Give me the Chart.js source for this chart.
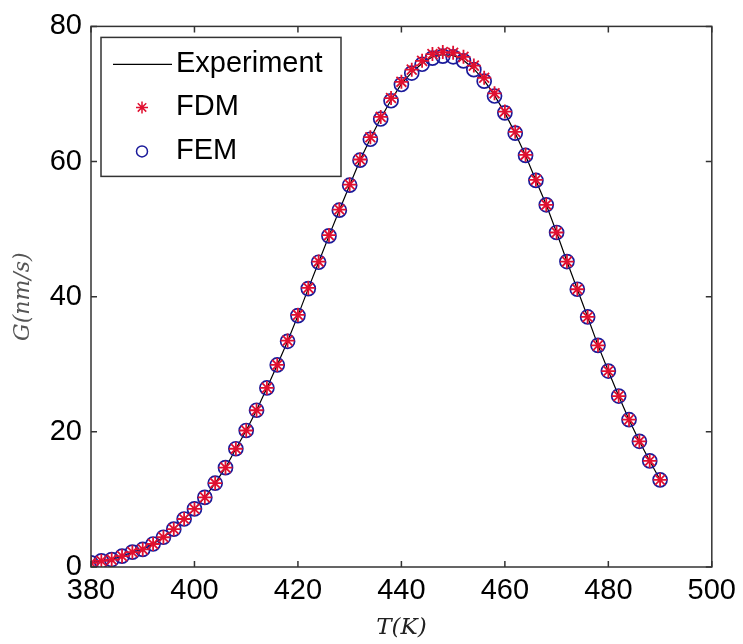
<!DOCTYPE html>
<html lang="en">
<head>
    <meta charset="UTF-8">
    <title>Growth rate vs temperature</title>
    <script src="https://cdn.jsdelivr.net/npm/chart.js"></script>
    <style>
        body {
            margin: 0;
            background: #ffffff;
        }
        .chart-container {
            position: relative;
            width: 743px;
            height: 644px;
        }
    </style>
</head>
<body>
    <div class="chart-container">
        <canvas id="growthChart"></canvas>
    </div>
    <script>
        // temperature samples (K)
        const temps = [380, 382, 384, 386, 388, 390, 392, 394, 396, 398,
                       400, 402, 404, 406, 408, 410, 412, 414, 416, 418,
                       420, 422, 424, 426, 428, 430, 432, 434, 436, 438,
                       440, 442, 444, 446, 448, 450, 452, 454, 456, 458,
                       460, 462, 464, 466, 468, 470, 472, 474, 476, 478,
                       480, 482, 484, 486, 488, 490];

        // growth rate G (nm/s)
        const experimentG = [0.6, 0.9, 1.1, 1.6, 2.2, 2.6, 3.4, 4.4, 5.6, 7.1,
                             8.6, 10.3, 12.4, 14.7, 17.5, 20.2, 23.2, 26.5, 29.9, 33.4,
                             37.2, 41.2, 45.1, 49.0, 52.8, 56.5, 60.2, 63.4, 66.4, 69.1,
                             71.5, 73.2, 74.5, 75.5, 75.8, 75.7, 75.0, 73.7, 72.0, 69.8,
                             67.2, 64.2, 60.9, 57.2, 53.6, 49.5, 45.2, 41.1, 37.0, 32.8,
                             29.0, 25.3, 21.8, 18.6, 15.7, 12.9];

        const fdmG = [0.6, 0.9, 1.1, 1.6, 2.2, 2.6, 3.4, 4.4, 5.6, 7.1,
                      8.6, 10.3, 12.4, 14.7, 17.5, 20.2, 23.2, 26.5, 29.9, 33.5,
                      37.3, 41.3, 45.2, 49.1, 52.9, 56.6, 60.3, 63.6, 66.6, 69.4,
                      71.8, 73.6, 74.9, 75.9, 76.2, 76.1, 75.5, 74.2, 72.4, 70.1,
                      67.4, 64.4, 61.0, 57.3, 53.6, 49.5, 45.2, 41.1, 37.0, 32.8,
                      29.0, 25.3, 21.8, 18.6, 15.7, 12.9];

        const femG = [0.6, 0.9, 1.1, 1.6, 2.2, 2.6, 3.4, 4.4, 5.6, 7.1,
                      8.6, 10.3, 12.4, 14.7, 17.5, 20.2, 23.2, 26.5, 29.9, 33.4,
                      37.2, 41.2, 45.1, 49.0, 52.8, 56.5, 60.2, 63.3, 66.3, 69.0,
                      71.4, 73.1, 74.4, 75.3, 75.6, 75.5, 74.9, 73.6, 71.9, 69.7,
                      67.2, 64.2, 60.9, 57.2, 53.6, 49.5, 45.2, 41.1, 37.0, 32.8,
                      29.0, 25.3, 21.8, 18.6, 15.7, 12.9];

        const xTicks = [380, 400, 420, 440, 460, 480, 500];
        const yTicks = [0, 20, 40, 60, 80];

        const RED = '#e01030';
        const BLUE = '#1a1a9a';
        const AXIS = '#333333';

        function pairs(ys) {
            return temps.map((t, i) => ({ x: t, y: ys[i] }));
        }

        // boxed frame with inward ticks on all four sides
        const framePlugin = {
            id: 'frame',
            afterDatasetsDraw(chart) {
                const { ctx, chartArea: a, scales } = chart;
                ctx.save();
                ctx.strokeStyle = AXIS;
                ctx.lineWidth = 1.5;
                ctx.strokeRect(a.left, a.top, a.right - a.left, a.bottom - a.top);
                const len = 6;
                ctx.beginPath();
                xTicks.forEach(v => {
                    const px = scales.x.getPixelForValue(v);
                    ctx.moveTo(px, a.bottom); ctx.lineTo(px, a.bottom - len);
                    ctx.moveTo(px, a.top); ctx.lineTo(px, a.top + len);
                });
                yTicks.forEach(v => {
                    const py = scales.y.getPixelForValue(v);
                    ctx.moveTo(a.left, py); ctx.lineTo(a.left + len, py);
                    ctx.moveTo(a.right, py); ctx.lineTo(a.right - len, py);
                });
                ctx.stroke();
                ctx.restore();
            }
        };

        // MATLAB-style legend box in the upper left corner
        const legendPlugin = {
            id: 'boxLegend',
            afterDraw(chart) {
                const { ctx, chartArea: a } = chart;
                const x0 = a.left + 10, y0 = a.top + 11;
                const w = 240, h = 139;
                ctx.save();
                ctx.fillStyle = '#ffffff';
                ctx.fillRect(x0, y0, w, h);
                ctx.strokeStyle = AXIS;
                ctx.lineWidth = 1.5;
                ctx.strokeRect(x0, y0, w, h);

                const rows = [y0 + 27, y0 + 70, y0 + 114];
                const mx = x0 + 41;
                const tx = x0 + 75;

                // Experiment line
                ctx.strokeStyle = '#000';
                ctx.lineWidth = 1.2;
                ctx.beginPath();
                ctx.moveTo(x0 + 12, rows[0]);
                ctx.lineTo(x0 + 71, rows[0]);
                ctx.stroke();

                // FDM star
                ctx.strokeStyle = RED;
                ctx.lineWidth = 1.5;
                ctx.beginPath();
                const r = 6;
                for (let k = 0; k < 4; k++) {
                    const ang = k * Math.PI / 4;
                    ctx.moveTo(mx - r * Math.cos(ang), rows[1] - r * Math.sin(ang));
                    ctx.lineTo(mx + r * Math.cos(ang), rows[1] + r * Math.sin(ang));
                }
                ctx.stroke();

                // FEM circle
                ctx.strokeStyle = BLUE;
                ctx.beginPath();
                ctx.arc(mx, rows[2], 5.5, 0, Math.PI * 2);
                ctx.stroke();

                ctx.fillStyle = '#000';
                ctx.font = '29px "Liberation Sans", Arial, sans-serif';
                ctx.textBaseline = 'middle';
                ctx.fillText('Experiment', tx, rows[0]);
                ctx.fillText('FDM', tx, rows[1]);
                ctx.fillText('FEM', tx, rows[2]);
                ctx.restore();
            }
        };

        const tickFont = { family: '"Liberation Sans", Arial, sans-serif', size: 29 };

        new Chart(document.getElementById('growthChart'), {
            type: 'line',
            data: {
                datasets: [
                    {
                        label: 'Experiment',
                        data: pairs(experimentG),
                        borderColor: '#000000',
                        borderWidth: 1.2,
                        pointRadius: 0,
                        tension: 0,
                        order: 3
                    },
                    {
                        label: 'FDM',
                        data: pairs(fdmG),
                        showLine: false,
                        pointStyle: 'star',
                        pointRadius: 7,
                        pointBorderWidth: 1.8,
                        pointBorderColor: RED,
                        pointBackgroundColor: RED,
                        order: 1
                    },
                    {
                        label: 'FEM',
                        data: pairs(femG),
                        showLine: false,
                        pointStyle: 'circle',
                        pointRadius: 7,
                        pointBorderWidth: 1.7,
                        pointBorderColor: BLUE,
                        pointBackgroundColor: 'rgba(0,0,0,0)',
                        order: 2
                    }
                ]
            },
            options: {
                responsive: true,
                maintainAspectRatio: false,
                animation: false,
                layout: { padding: { top: 22, right: 27, left: 0, bottom: 0 } },
                plugins: {
                    legend: { display: false },
                    tooltip: { enabled: false }
                },
                scales: {
                    x: {
                        type: 'linear',
                        min: 380,
                        max: 500,
                        afterBuildTicks: s => { s.ticks = xTicks.map(v => ({ value: v })); },
                        afterFit: s => { s.height = 77; },
                        grid: { display: false, drawTicks: false },
                        border: { display: false },
                        ticks: { font: tickFont, color: '#000', padding: 7 },
                        title: {
                            display: true,
                            text: 'T(K)',
                            font: { family: '"DejaVu Serif", "Liberation Serif", serif', size: 23, style: 'italic' },
                            color: '#222',
                            padding: { top: 0, bottom: 2 }
                        }
                    },
                    y: {
                        min: 0,
                        max: 80,
                        afterBuildTicks: s => { s.ticks = yTicks.map(v => ({ value: v })); },
                        afterFit: s => { s.width = 91; },
                        grid: { display: false, drawTicks: false },
                        border: { display: false },
                        ticks: { font: tickFont, color: '#000', padding: 9 },
                        title: {
                            display: true,
                            text: 'G(nm/s)',
                            font: { family: '"DejaVu Serif", "Liberation Serif", serif', size: 22, style: 'italic' },
                            color: '#555',
                            padding: { top: 10, bottom: 0 }
                        }
                    }
                }
            },
            plugins: [framePlugin, legendPlugin]
        });
    </script>
</body>
</html>
